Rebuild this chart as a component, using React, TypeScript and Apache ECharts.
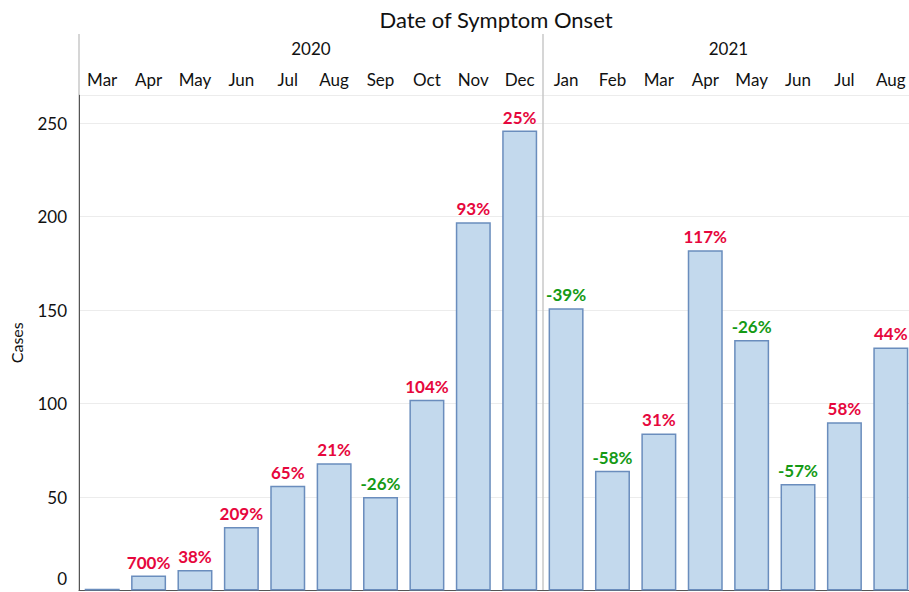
import React, { useEffect, useRef } from "react";
import * as echarts from "echarts";

const months = ["Mar", "Apr", "May", "Jun", "Jul", "Aug", "Sep", "Oct", "Nov", "Dec", "Jan", "Feb", "Mar", "Apr", "May", "Jun", "Jul", "Aug"];
const cases = [1, 8, 11, 34, 56, 68, 50, 102, 197, 246, 151, 64, 84, 182, 134, 57, 90, 130];
const pctChange = ["", "700%", "38%", "209%", "65%", "21%", "-26%", "104%", "93%", "25%", "-39%", "-58%", "31%", "117%", "-26%", "-57%", "58%", "44%"];
const years = ["2020", "2021"];
const yearCenters = [5, 14];
const yearBoundaries = [0, 10, 18];
const yTicks = [0, 50, 100, 150, 200, 250];

const RED = "#e6073d";
const GREEN = "#159a15";
const FONT = "Lato, 'Open Sans', sans-serif";

export default function App() {
  const ref = useRef<HTMLDivElement>(null);
  useEffect(() => {
    document.body.style.margin = "0";
    const chart = echarts.init(ref.current!, null, { renderer: "svg" });
    const data = cases.map((v, i) => ({
      value: v,
      label: {
        formatter: pctChange[i],
        color: pctChange[i].startsWith("-") ? GREEN : RED,
      },
    }));
    chart.setOption({
      animation: false,
      textStyle: { fontFamily: FONT },
      grid: { left: 79, top: 95, width: 835, bottom: 1.5, containLabel: false, outerBoundsMode: "none" },
      graphic: [
        {
          type: "text",
          x: 496,
          y: 19,
          style: {
            text: "Date of Symptom Onset",
            font: `22px ${FONT}`,
            fill: "#111",
            textAlign: "center",
            textVerticalAlign: "middle",
          },
        },
      ],
      xAxis: [
        {
          type: "category",
          data: months,
          position: "top",
          axisLine: { show: true, lineStyle: { color: "#555", width: 1 } },
          axisTick: { show: false },
          axisLabel: { fontSize: 17, color: "#111", margin: 7, interval: 0, fontFamily: FONT },
          splitLine: { show: false },
        },
        {
          type: "value",
          min: yearBoundaries[0],
          max: yearBoundaries[2],
          interval: yearBoundaries[1],
          position: "top",
          axisLine: { show: false },
          axisTick: { show: true, length: 61, lineStyle: { color: "#c8c8c8", width: 1.5 } },
          axisLabel: { show: false },
          splitLine: { show: true, lineStyle: { color: "#c8c8c8", width: 1.5 } },
        },
        {
          type: "value",
          min: 0,
          max: 18,
          interval: 1,
          position: "top",
          axisLine: { show: false },
          axisTick: { show: false },
          splitLine: { show: false },
          axisLabel: {
            show: true,
            margin: 38,
            fontSize: 17,
            color: "#111",
            fontFamily: FONT,
            formatter: (v: number) => {
              const k = yearCenters.indexOf(v);
              return k >= 0 ? years[k] : "";
            },
          },
        },
      ],
      yAxis: {
        type: "value",
        min: 0,
        max: 265,
        interval: 50,
        name: "Cases",
        nameLocation: "middle",
        nameGap: 55,
        nameTextStyle: { fontSize: 16, color: "#111", fontFamily: FONT },
        axisLine: { show: true, lineStyle: { color: "#555", width: 1 } },
        axisTick: { show: false },
        axisLabel: {
          fontSize: 17,
          color: "#111",
          margin: 12,
          fontFamily: FONT,
          formatter: (v: number) => (yTicks.indexOf(v) < 0 ? "" : v === 0 ? "{z|0}" : String(v)),
          rich: { z: { fontSize: 17, color: "#111", fontFamily: FONT, padding: [0, 0, 24, 0] } },
        },
        splitLine: { show: true, lineStyle: { color: "#ececec", width: 1 } },
      },
      series: [
        {
          type: "bar",
          xAxisIndex: 0,
          data,
          barWidth: 35,
          itemStyle: { color: "#c3d9ed", borderColor: "#6a8dbd", borderWidth: 1.5 },
          label: {
            show: true,
            position: "top",
            distance: 5,
            fontSize: 17,
            fontWeight: "bold",
            fontFamily: FONT,
          },
        },
      ],
    });
    return () => chart.dispose();
  }, []);
  return <div ref={ref} style={{ width: 909, height: 592 }} />;
}
